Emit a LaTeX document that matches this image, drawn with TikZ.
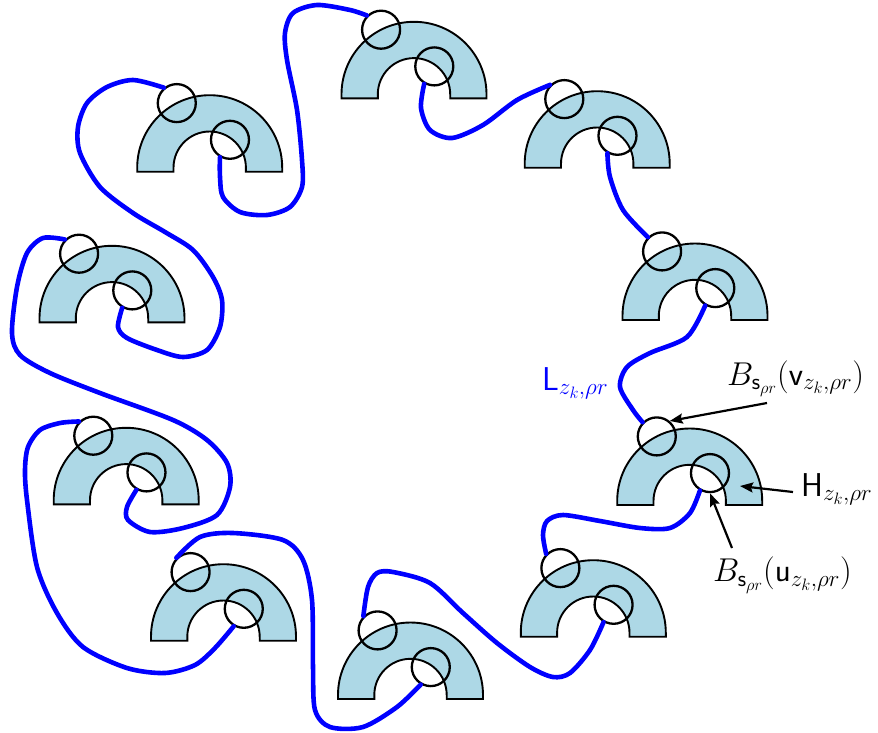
\RequirePackage{fix-cm}
\documentclass[tikz,border=0pt]{standalone}
\usetikzlibrary{arrows.meta}
\definecolor{archfill}{RGB}{173,216,230}
\tikzset{
 archshape/.style={fill=archfill, draw=black, line width=1.9pt, line join=miter},
 ball/.style={circle, draw=black, line width=2.3pt, minimum size=38pt, inner sep=0pt},
 wire/.style={draw=blue, line width=4.6pt, line cap=round},
 pointer/.style={draw=black, line width=2.2pt, -{Stealth[length=13pt,width=10pt,inset=2pt]}},
 lab/.style={font=\fontsize{33}{39}\selectfont, inner sep=0pt, anchor=base west},
}
\newcommand{\halfring}[3]{%
 \begin{scope}[shift={(#2,4-#3)}]
 \draw[archshape] (-72.5,-4) -- (-72.5,0) arc[start angle=180,end angle=0,radius=72.5] -- (72.5,-4) -- (36.2,-4) -- (36.2,0) arc[start angle=0,end angle=180,radius=36.2] -- (-36.2,-4) -- cycle;
 \node[ball] (#1v) at (117:72.5) {};
 \node[ball] (#1u) at (54:34.5) {};
 \end{scope}}
\begin{document}
\begin{tikzpicture}[x=1pt,y=1pt]
\useasboundingbox (0,0) rectangle (878,-732);
\halfring{A1}{414}{98.3}
\halfring{A2}{597.2}{167.7}
\halfring{A3}{695}{320}
\halfring{A4}{689.7}{505}
\halfring{A5}{593.3}{636.7}
\halfring{A6}{410.5}{699}
\halfring{A7}{223.5}{640.7}
\halfring{A8}{126.2}{504.3}
\halfring{A9}{112}{322.3}
\halfring{A10}{209.7}{171.7}
% wires
\draw[wire] plot[smooth] coordinates {(A1u.240) (421,-108) (430,-130) (452,-138) (483,-125) (517,-100) (A2v.135)};
\draw[wire] plot[smooth] coordinates {(A2u.240) (610,-177) (623,-210) (A3v.135)};
\draw[wire] plot[smooth] coordinates {(A3u.240) (687,-337) (650,-353) (627,-367) (620,-387) (633,-410) (A4v.135)};
\draw[wire] plot[smooth] coordinates {(A4u.240) (690,-513) (670,-528) (640,-528) (600,-521) (563,-515) (547,-521) (543,-535) (A5v.135)};
\draw[wire] plot[smooth] coordinates {(A5u.240) (590,-650) (570,-673) (553,-677) (530,-667) (497,-643) (463,-613) (430,-583) (393,-572) (377,-573) (368,-587) (A6v.135)};
\draw[wire] plot[smooth] coordinates {(A6u.240) (397,-707) (363,-727) (330,-727) (315,-710) (313,-667) (312,-600) (303,-560) (283,-540) (233,-533) (200,-537) (A7v.135)};
\draw[wire] plot[smooth] coordinates {(A7u.240) (215,-648) (195,-665) (165,-673) (127,-668) (83,-647) (57,-613) (37,-567) (27,-500) (25,-470) (28,-447) (40,-430) (60,-423) (A8v.135)};
\draw[wire] plot[smooth] coordinates {(A8u.240) (127,-507) (128,-520) (150,-532) (183,-528) (217,-515) (230,-487) (227,-463) (207,-440) (173,-420) (100,-393) (50,-373) (20,-355) (12,-333) (17,-287) (27,-253) (43,-238) (A9v.135)};
\draw[wire] plot[smooth] coordinates {(A9u.240) (118,-327) (127,-338) (157,-350) (183,-357) (207,-350) (220,-327) (222,-300) (213,-277) (193,-250) (165,-232) (133,-213) (100,-187) (80,-153) (78,-127) (87,-103) (107,-87) (133,-80) (A10v.130)};
\draw[wire] plot[smooth] coordinates {(A10u.240) (220,-177) (223,-197) (240,-212) (267,-215) (290,-207) (302,-187) (302,-160) (297,-110) (287,-60) (285,-33) (293,-13) (317,-5) (350,-10) (A1v.135)};
% labels
\node[lab, text=blue] (lL) at (542,-390) {$\mathsf{L}_{z_k,\rho r}$};
\node[lab] (lBv) at (727,-385) {$B_{\mathsf{s}_{\rho r}}(\mathsf{v}_{z_k,\rho r})$};
\node[lab] (lH) at (801,-496) {$\mathsf{H}_{z_k,\rho r}$};
\node[lab] (lBu) at (713,-581.7) {$B_{\mathsf{s}_{\rho r}}(\mathsf{u}_{z_k,\rho r})$};
% pointers
\coordinate (tBv) at (767,-403);
\coordinate (tH) at (793,-492);
\coordinate (hH) at (740,-486);
\coordinate (tBu) at (732,-548);
\draw[pointer] (tBv) -- (A4v.50);
\draw[pointer] (tH) -- (hH);
\draw[pointer] (tBu) -- (A4u.270);
\end{tikzpicture}
\end{document}
